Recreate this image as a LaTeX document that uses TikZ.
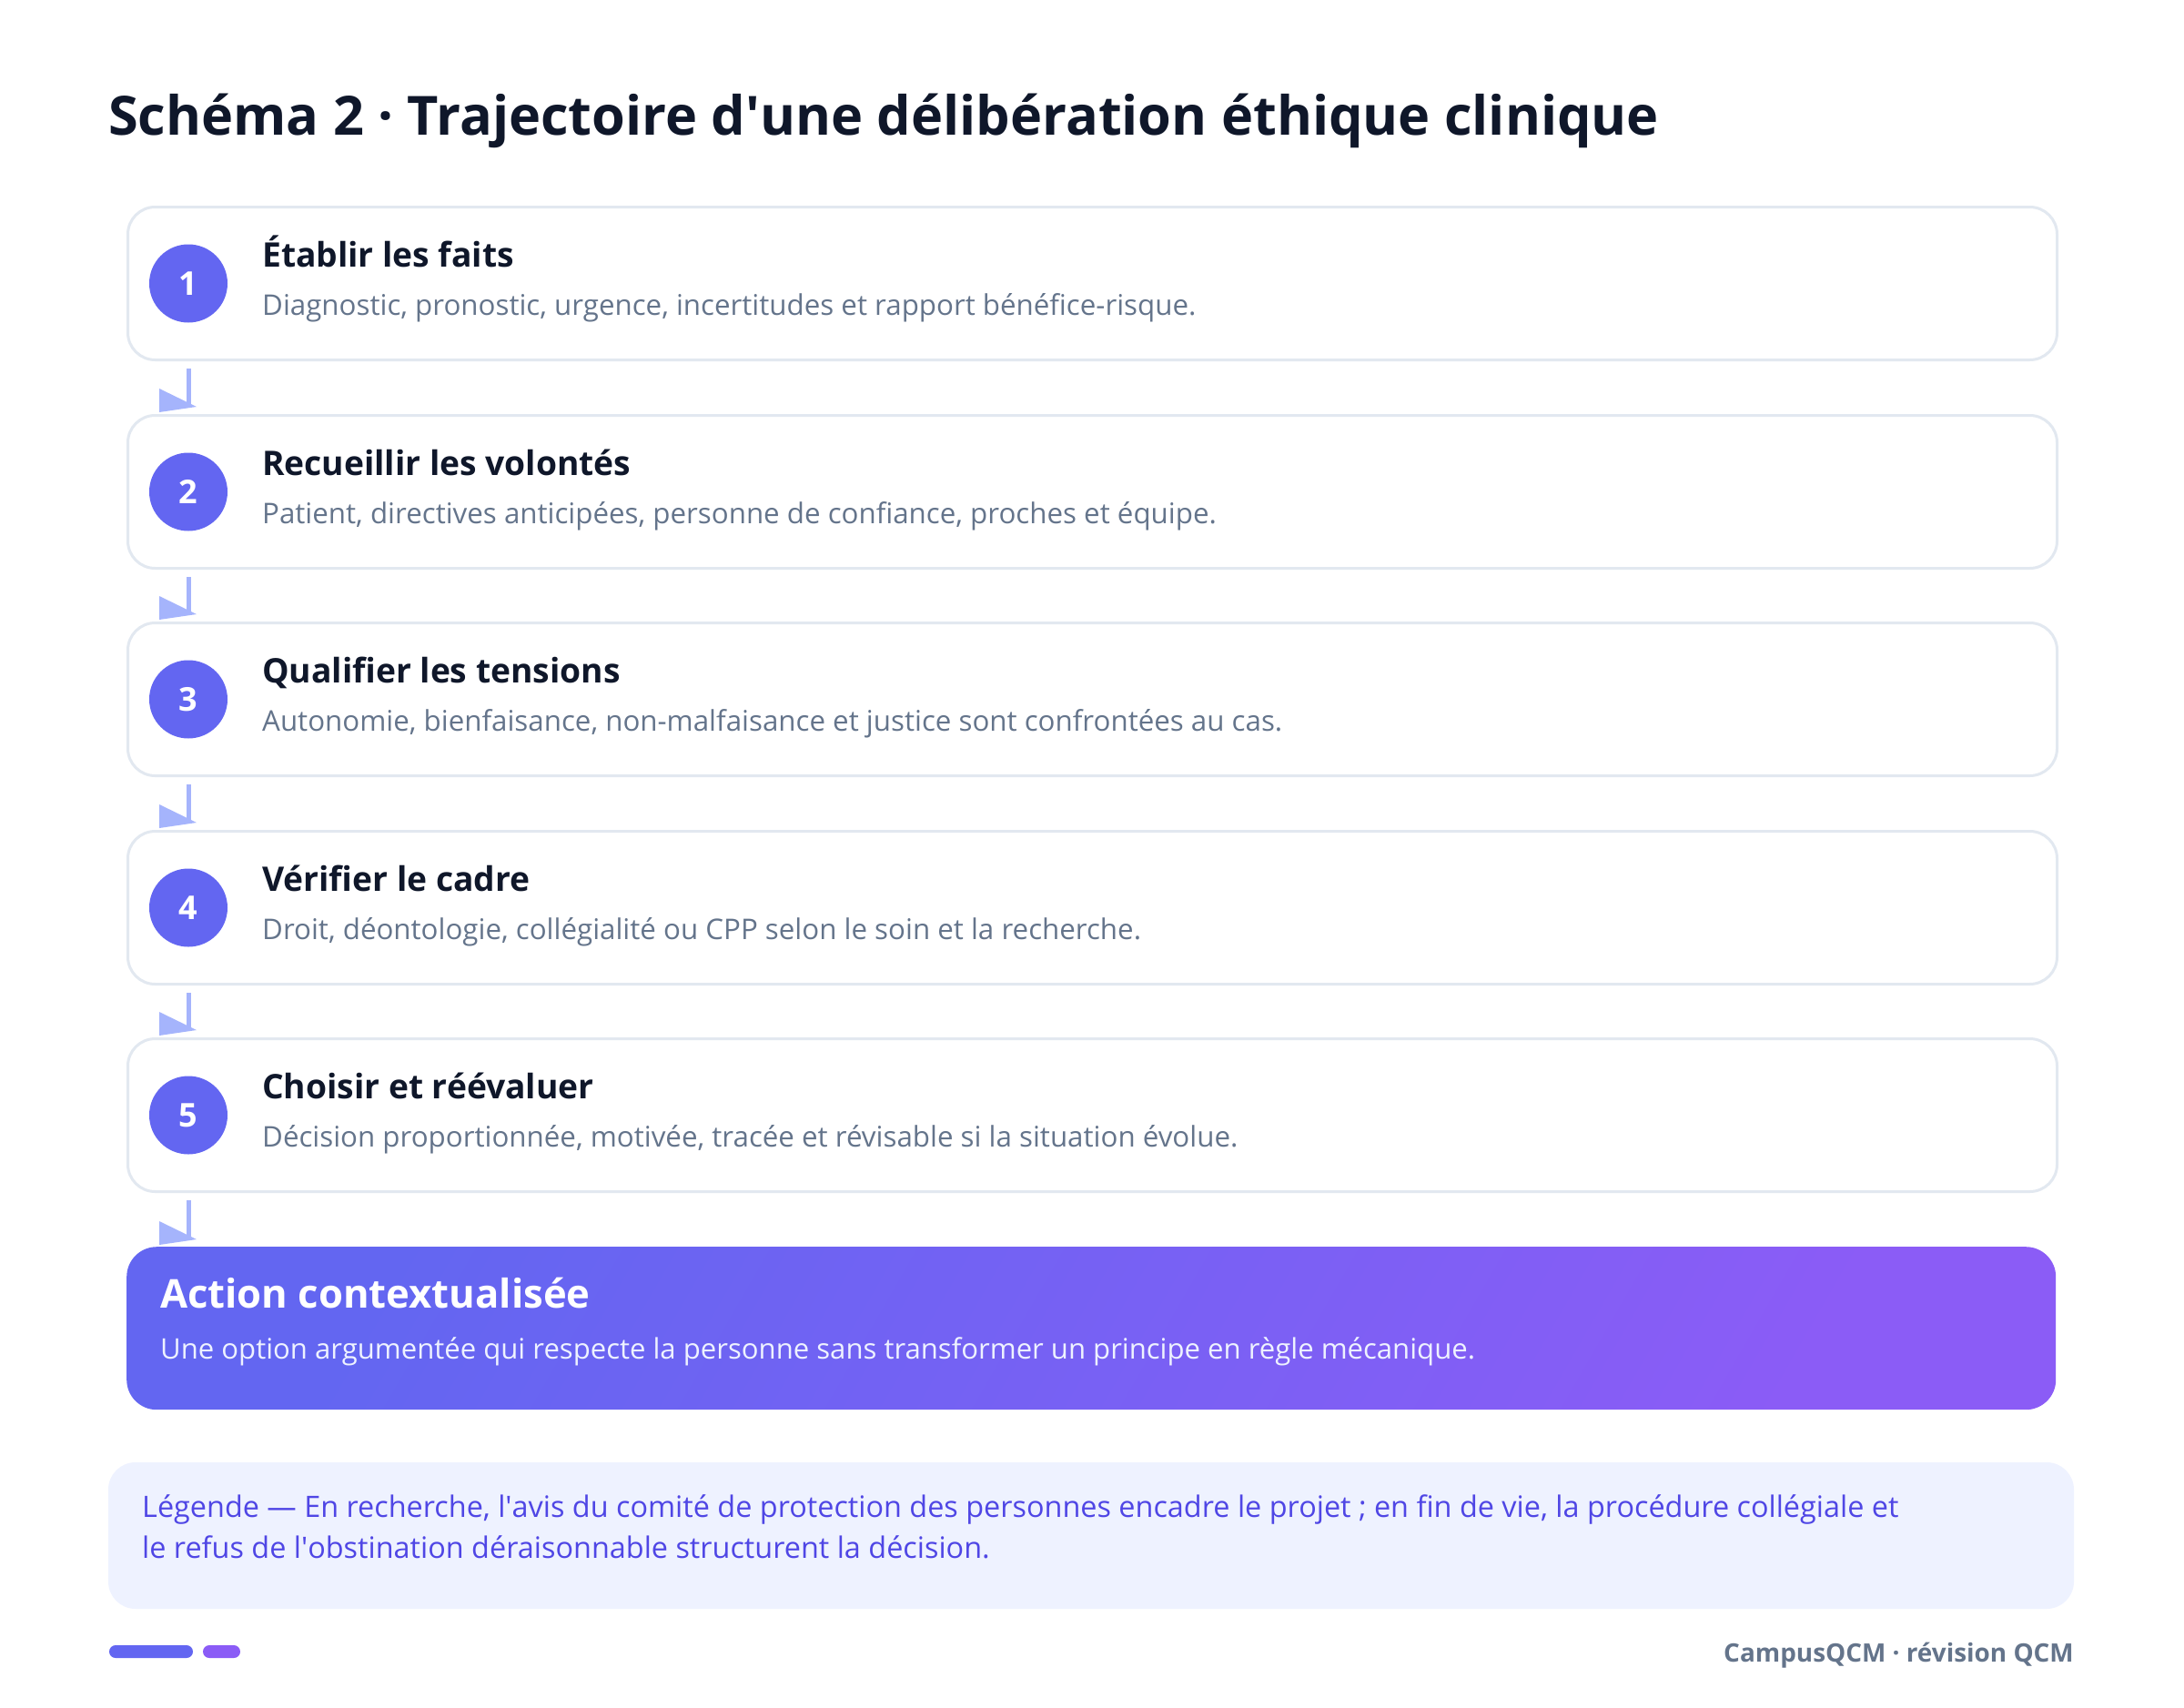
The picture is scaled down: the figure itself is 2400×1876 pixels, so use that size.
\documentclass[tikz,border=0pt]{standalone}
\usepackage{fontspec}
\setmainfont{Open Sans}
\usepackage{tikz}
\usetikzlibrary{positioning}

\definecolor{ink}{HTML}{0F172A}
\definecolor{muted}{HTML}{64748B}
\definecolor{card_line}{HTML}{E2E8F0}
\definecolor{indigo}{HTML}{6366F1}
\definecolor{violet}{HTML}{8B5CF6}
\definecolor{flow}{HTML}{A5B4FC}
\definecolor{legend_fill}{HTML}{EEF2FF}
\definecolor{legend_ink}{HTML}{4F46E5}

\tikzset{
  card/.style={draw=card_line, line width=3pt, fill=white, rounded corners=30pt,
    minimum width=2120pt, minimum height=168pt, anchor=north west, inner sep=0pt},
  num_disc/.style={circle, fill=indigo, minimum size=86pt, inner sep=0pt,
    text=white, font=\fontsize{36}{40}\selectfont\bfseries},
  card_title/.style={anchor=base west, inner sep=0pt, text=ink,
    font=\fontsize{37.2}{42}\selectfont\bfseries},
  card_text/.style={anchor=base west, inner sep=0pt, text=muted,
    font=\fontsize{31.3}{36}\selectfont},
  flow_line/.style={draw=flow, line width=5pt},
  flow_tip/.style={fill=flow},
}

\begin{document}
\begin{tikzpicture}[x=1pt,y=-1pt]

\useasboundingbox (0,0) rectangle (2400,1876);
\fill[white] (0,0) rectangle (2400,1876);

\node[anchor=base west, inner sep=0pt, text=ink, font=\fontsize{59.4}{66}\selectfont\bfseries]
  (title) at (119,148) {Schéma 2 · Trajectoire d\textquotesingle une délibération éthique clinique};

\node[card] (step_1) at (139,226) {};
\node[num_disc] (num_1) at ([xshift=68pt]step_1.west) {1};
\node[card_title] (head_1) at (288,293) {Établir les faits};
\node[card_text] (text_1) at (288,346) {Diagnostic, pronostic, urgence, incertitudes et rapport bénéfice-risque.};

\node[card] (step_2) at (139,455) {};
\node[num_disc] (num_2) at ([xshift=68pt]step_2.west) {2};
\node[card_title] (head_2) at (288,522) {Recueillir les volontés};
\node[card_text] (text_2) at (288,575) {Patient, directives anticipées, personne de confiance, proches et équipe.};

\node[card] (step_3) at (139,683) {};
\node[num_disc] (num_3) at ([xshift=68pt]step_3.west) {3};
\node[card_title] (head_3) at (288,750) {Qualifier les tensions};
\node[card_text] (text_3) at (288,803) {Autonomie, bienfaisance, non-malfaisance et justice sont confrontées au cas.};

\node[card] (step_4) at (139,912) {};
\node[num_disc] (num_4) at ([xshift=68pt]step_4.west) {4};
\node[card_title] (head_4) at (288,979) {Vérifier le cadre};
\node[card_text] (text_4) at (288,1032) {Droit, déontologie, collégialité ou CPP selon le soin et la recherche.};

\node[card] (step_5) at (139,1140) {};
\node[num_disc] (num_5) at ([xshift=68pt]step_5.west) {5};
\node[card_title] (head_5) at (288,1207) {Choisir et réévaluer};
\node[card_text] (text_5) at (288,1260) {Décision proportionnée, motivée, tracée et révisable si la situation évolue.};

\node[anchor=north west, minimum width=2120pt, minimum height=179pt, inner sep=0pt,
  rounded corners=33pt, left color=indigo, right color=violet, shading angle=60]
  (action) at (139,1370) {};
\node[anchor=base west, inner sep=0pt, text=white, font=\fontsize{43.6}{48}\selectfont\bfseries]
  (action_head) at (176,1437) {Action contextualisée};
\node[anchor=base west, inner sep=0pt, text=legend_fill, font=\fontsize{31.1}{36}\selectfont]
  (action_text) at (176,1493) {Une option argumentée qui respecte la personne sans transformer un principe en règle mécanique.};

\draw[flow_line] ([yshift=-8pt]step_1.south -| num_1) -- ([yshift=8pt]step_2.north -| num_1);
\fill[flow_tip] ([xshift=-32pt,yshift=28pt]step_2.north -| num_1) -- ++(0,26) -- ++(41,-6) -- cycle;
\draw[flow_line] ([yshift=-8pt]step_2.south -| num_2) -- ([yshift=8pt]step_3.north -| num_2);
\fill[flow_tip] ([xshift=-32pt,yshift=28pt]step_3.north -| num_2) -- ++(0,26) -- ++(41,-6) -- cycle;
\draw[flow_line] ([yshift=-8pt]step_3.south -| num_3) -- ([yshift=8pt]step_4.north -| num_3);
\fill[flow_tip] ([xshift=-32pt,yshift=28pt]step_4.north -| num_3) -- ++(0,26) -- ++(41,-6) -- cycle;
\draw[flow_line] ([yshift=-8pt]step_4.south -| num_4) -- ([yshift=8pt]step_5.north -| num_4);
\fill[flow_tip] ([xshift=-32pt,yshift=28pt]step_5.north -| num_4) -- ++(0,26) -- ++(41,-6) -- cycle;
\draw[flow_line] ([yshift=-8pt]step_5.south -| num_5) -- ([yshift=8pt]action.north -| num_5);
\fill[flow_tip] ([xshift=-32pt,yshift=28pt]action.north -| num_5) -- ++(0,26) -- ++(41,-6) -- cycle;

\fill[legend_fill, rounded corners=30pt] (119,1607) rectangle (2279,1768);
\node[anchor=base west, inner sep=0pt, text=legend_ink, font=\fontsize{32.4}{36}\selectfont]
  (legend_1) at (156,1667) {Légende — En recherche, l\textquotesingle avis du comité de protection des personnes encadre le projet ; en fin de vie, la procédure collégiale et};
\node[anchor=base west, inner sep=0pt, text=legend_ink, font=\fontsize{32.4}{36}\selectfont]
  (legend_2) at (156,1712) {le refus de l\textquotesingle obstination déraisonnable structurent la décision.};

\fill[indigo, rounded corners=7pt] (120,1808) rectangle (212,1822);
\fill[violet, rounded corners=7pt] (223,1808) rectangle (264,1822);
\node[anchor=base east, inner sep=0pt, text=muted, font=\fontsize{27.9}{30}\selectfont\bfseries]
  (brand) at (2279,1826) {CampusQCM · révision QCM};

\end{tikzpicture}
\end{document}
